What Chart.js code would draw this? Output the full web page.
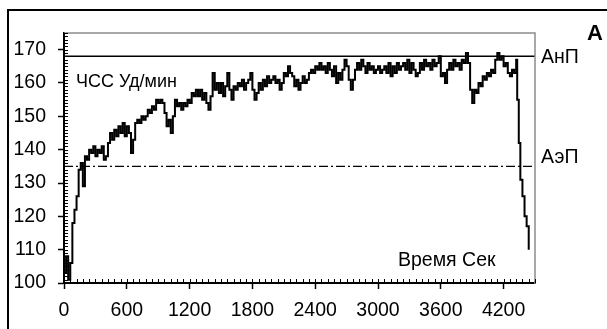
<!DOCTYPE html>
<html>
<head>
<meta charset="utf-8">
<script src="https://cdn.jsdelivr.net/npm/chart.js@4"></script>
<style>
html, body { margin: 0; padding: 0; background: #fff; }
</style>
</head>
<body>
<canvas id="hrChart" width="607" height="329"></canvas>
<script>
// time in seconds and heart rate (beats/min)
const seconds = [
    0, 20, 40, 60, 80, 100, 120, 140, 160, 180,
    200, 220, 240, 260, 280, 300, 320, 340, 360, 380,
    400, 420, 440, 460, 480, 500, 520, 540, 560, 580,
    600, 620, 640, 660, 680, 700, 720, 740, 760, 780,
    800, 820, 840, 860, 880, 900, 920, 940, 960, 980,
    1000, 1020, 1040, 1060, 1080, 1100, 1120, 1140, 1160, 1180,
    1200, 1220, 1240, 1260, 1280, 1300, 1320, 1340, 1360, 1380,
    1400, 1420, 1440, 1460, 1480, 1500, 1520, 1540, 1560, 1580,
    1600, 1620, 1640, 1660, 1680, 1700, 1720, 1740, 1760, 1780,
    1800, 1820, 1840, 1860, 1880, 1900, 1920, 1940, 1960, 1980,
    2000, 2020, 2040, 2060, 2080, 2100, 2120, 2140, 2160, 2180,
    2200, 2220, 2240, 2260, 2280, 2300, 2320, 2340, 2360, 2380,
    2400, 2420, 2440, 2460, 2480, 2500, 2520, 2540, 2560, 2580,
    2600, 2620, 2640, 2660, 2680, 2700, 2720, 2740, 2760, 2780,
    2800, 2820, 2840, 2860, 2880, 2900, 2920, 2940, 2960, 2980,
    3000, 3020, 3040, 3060, 3080, 3100, 3120, 3140, 3160, 3180,
    3200, 3220, 3240, 3260, 3280, 3300, 3320, 3340, 3360, 3380,
    3400, 3420, 3440, 3460, 3480, 3500, 3520, 3540, 3560, 3580,
    3600, 3620, 3640, 3660, 3680, 3700, 3720, 3740, 3760, 3780,
    3800, 3820, 3840, 3860, 3880, 3900, 3920, 3940, 3960, 3980,
    4000, 4020, 4040, 4060, 4080, 4100, 4120, 4140, 4160, 4180,
    4200, 4220, 4240, 4260, 4280, 4300, 4320, 4330, 4345, 4360,
    4380, 4400, 4420, 4440
];
const heartRate = [
    103, 108, 101, 106, 118, 122, 126, 134, 136, 129,
    138, 137, 140, 139, 141, 138, 140, 139, 141, 137,
    138, 142, 145, 143, 146, 144, 147, 145, 148, 144,
    147, 145, 139, 143, 148, 149, 148, 150, 149, 150,
    152, 151, 153, 152, 155, 154, 155, 154, 151, 147,
    149, 145, 150, 155, 153, 154, 152, 154, 153, 155,
    154, 157, 156, 158, 156, 158, 155, 157, 154, 152,
    156, 163, 158, 160, 157, 160, 156, 159, 163, 158,
    155, 159, 158, 160, 159, 161, 158, 160, 161, 163,
    158, 155, 157, 160, 158, 161, 159, 162, 160, 161,
    162, 160, 161, 158, 160, 163, 162, 165, 163, 162,
    159, 161, 158, 160, 162, 160, 161, 163, 164, 163,
    165, 164, 166, 164, 165, 163, 166, 164, 162, 165,
    160, 163, 161, 164, 167, 165, 161, 158, 161, 164,
    166, 164, 167, 165, 163, 166, 164, 165, 163, 164,
    165, 163, 164, 165, 163, 166, 162, 165, 163, 166,
    164, 165, 166, 164, 167, 163, 166, 164, 162, 163,
    166, 164, 167, 165, 166, 164, 167, 165, 166, 168,
    162, 163, 160, 164, 166, 164, 167, 165, 166, 164,
    167, 166, 169, 166, 158, 154, 158, 157, 160, 159,
    162, 161, 163, 162, 164, 163, 167, 169, 167, 168,
    165, 166, 163, 162, 164, 163, 167, 155, 142, 131,
    126, 120, 117, 110
];
const xTicks = [0, 600, 1200, 1800, 2400, 3000, 3600, 4200];
const yTicks = [100, 110, 120, 130, 140, 150, 160, 170];
const xRange = [0, 4500];
const yRange = [100, 175];
const thresholds = [168, 135];
const thresholdNames = ["АнП", "АэП"];

Chart.defaults.font.family = "'Liberation Sans', Arial, sans-serif";
Chart.defaults.color = "#000";

const decorations = {
    id: "decorations",
    afterDraw(chart) {
        const { ctx, chartArea: a, scales: { x, y } } = chart;
        ctx.save();

        // outer frame
        ctx.strokeStyle = "#000";
        ctx.lineWidth = 2;
        ctx.beginPath();
        ctx.moveTo(8, 329);
        ctx.lineTo(8, 10);
        ctx.lineTo(607, 10);
        ctx.stroke();

        // grey top / right of plot box
        ctx.strokeStyle = "#8c8c8c";
        ctx.lineWidth = 1.5;
        ctx.beginPath();
        ctx.moveTo(a.left, a.top);
        ctx.lineTo(a.right, a.top);
        ctx.lineTo(a.right, a.bottom + 1);
        ctx.stroke();

        // minor ticks
        ctx.strokeStyle = "#000";
        ctx.lineWidth = 1;
        ctx.beginPath();
        for (let s = 60; s <= xRange[1]; s += 60) {
            const px = Math.round(x.getPixelForValue(s)) + 0.5;
            ctx.moveTo(px, a.bottom);
            ctx.lineTo(px, a.bottom - 4);
        }
        for (let v = yRange[0] + 1; v <= yRange[1]; v++) {
            const py = Math.round(y.getPixelForValue(v)) + 0.5;
            ctx.moveTo(a.left, py);
            ctx.lineTo(a.left + 4, py);
        }
        ctx.stroke();

        // texts
        ctx.fillStyle = "#000";
        ctx.textBaseline = "middle";
        ctx.textAlign = "left";
        ctx.font = "18px 'Liberation Sans', Arial, sans-serif";
        ctx.fillText("ЧСС Уд/мин", a.left + 12, 82);
        ctx.font = "19.5px 'Liberation Sans', Arial, sans-serif";
        ctx.fillText(thresholdNames[0], a.right + 6, y.getPixelForValue(thresholds[0]) + 1);
        ctx.fillText(thresholdNames[1], a.right + 6, y.getPixelForValue(thresholds[1]) - 9);
        ctx.fillText("Время Сек", a.right - 137, 261);
        ctx.font = "bold 22px 'Liberation Sans', Arial, sans-serif";
        ctx.fillText("A", 587, 34);
        ctx.restore();
    }
};

const ctx = document.getElementById("hrChart").getContext("2d");
new Chart(ctx, {
    type: "line",
    data: {
        datasets: [
            {
                label: "ЧСС",
                data: seconds.map((s, i) => ({ x: s, y: heartRate[i] })),
                borderColor: "#000",
                borderWidth: 2,
                pointRadius: 0,
                stepped: true,
                fill: false
            },
            {
                label: thresholdNames[0],
                data: xRange.map(s => ({ x: s, y: thresholds[0] })),
                borderColor: "#000",
                borderWidth: 1.5,
                pointRadius: 0
            },
            {
                label: thresholdNames[1],
                data: xRange.map(s => ({ x: s, y: thresholds[1] })),
                borderColor: "#000",
                borderWidth: 1.3,
                borderDash: [9, 3, 2, 3],
                pointRadius: 0
            }
        ]
    },
    options: {
        responsive: false,
        animation: false,
        layout: { padding: { top: 33, right: 72, left: 0, bottom: 0 } },
        plugins: { legend: { display: false }, tooltip: { enabled: false } },
        scales: {
            x: {
                type: "linear",
                min: xRange[0],
                max: xRange[1],
                afterBuildTicks: scale => { scale.ticks = xTicks.map(v => ({ value: v })); },
                afterFit: scale => { scale.height = 46; },
                ticks: {
                    autoSkip: false, maxRotation: 0, padding: 10,
                    font: { size: 19.5 },
                    callback: v => String(v)
                },
                grid: { drawOnChartArea: false, tickLength: 6, tickColor: "#000", tickWidth: 1.5 },
                border: { color: "#000", width: 2 }
            },
            y: {
                min: yRange[0],
                max: yRange[1],
                afterBuildTicks: scale => { scale.ticks = yTicks.map(v => ({ value: v })); },
                afterFit: scale => { scale.width = 64; },
                ticks: { padding: 12, font: { size: 19.5 }, callback: v => String(v) },
                grid: { drawOnChartArea: false, tickLength: 6, tickColor: "#000", tickWidth: 1.5 },
                border: { color: "#000", width: 2 }
            }
        }
    },
    plugins: [decorations]
});
</script>
</body>
</html>
